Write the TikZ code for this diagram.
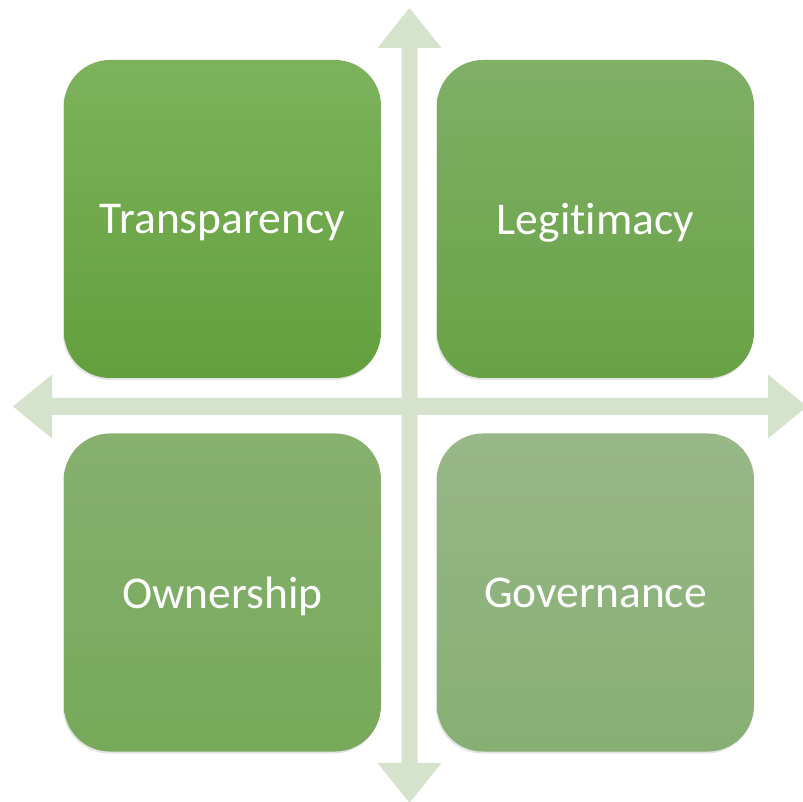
\documentclass[tikz,border=0pt]{standalone}
\usepackage{fontspec}
\setmainfont[Ligatures=NoCommon]{Carlito}
\usetikzlibrary{shadows}
\definecolor{axisgreen}{HTML}{D5E3CC}
\definecolor{tltop}{HTML}{7CB25C}\definecolor{tlbot}{HTML}{63A03C}
\definecolor{trtop}{HTML}{80AF66}\definecolor{trbot}{HTML}{68A245}
\definecolor{bltop}{HTML}{87B06F}\definecolor{blbot}{HTML}{77A95A}
\definecolor{brtop}{HTML}{97B787}\definecolor{brbot}{HTML}{87AF73}
\tikzset{
  quad/.style={rounded corners=46pt, minimum width=317pt, minimum height=318pt,
    text=white, font=\fontsize{45.5}{54}\selectfont, text depth=0pt,
    drop shadow={opacity=0.22, shadow xshift=-1pt, shadow yshift=-2pt}},
}
\begin{document}
\begin{tikzpicture}[x=1pt,y=1pt]
			\useasboundingbox (0,0) rectangle (803,801);
			\clip (0,0) rectangle (803,801);
			
			% axes
			\fill[axisgreen] (409.5,793) -- (441.5,753) -- (417.5,753) -- (417.5,38)
			  -- (441.5,38) -- (409.5,-2) -- (377.5,38) -- (401.5,38) -- (401.5,753)
			  -- (377.5,753) -- cycle;
			\fill[axisgreen] (13,394.5) -- (52,426.5) -- (52,403) -- (768,403)
			  -- (768,426.5) -- (807,394.5) -- (768,362.5) -- (768,386) -- (52,386)
			  -- (52,362.5) -- cycle;
			
			% quadrants
			\node[quad, top color=tltop, bottom color=tlbot] (transp) at (222.5,582) {Transparency};
			\node[quad, top color=trtop, bottom color=trbot] (legit) at (595.5,582) {Legitimacy};
			\node[quad, top color=bltop, bottom color=blbot] (owner) at (222.5,208.5) {Ownership};
			\node[quad, top color=brtop, bottom color=brbot] (gov) at (595.5,208.5) {Governance};
		\end{tikzpicture}
\end{document}
